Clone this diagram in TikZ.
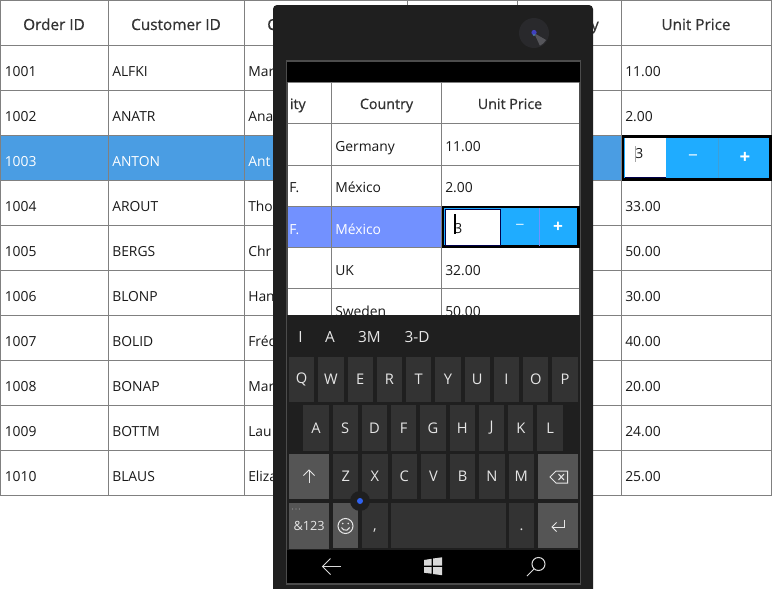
\documentclass[tikz,border=0pt]{standalone}
\usepackage{fontspec}
\setmainfont{Open Sans}
\newfontfamily\headfont[FakeBold=0.6]{Open Sans}
\usetikzlibrary{calc}
\definecolor{gridline}{HTML}{808080}
\definecolor{selrow}{HTML}{4A9DE3}
\definecolor{selrowphone}{HTML}{7291FF}
\definecolor{spinblue}{HTML}{1FACFF}
\definecolor{phonebody}{HTML}{1F1F1F}
\definecolor{keydark}{HTML}{333333}
\definecolor{keylight}{HTML}{555555}
\definecolor{keytext}{HTML}{E6E6E6}
\definecolor{homedot}{HTML}{2F62F0}
\definecolor{camring}{HTML}{29292C}
\definecolor{camglint}{HTML}{55555A}
\tikzset{
	headtext/.style={anchor=base,inner sep=0,text=black!80,font=\headfont\fontsize{11.5pt}{12pt}\selectfont},
	phonehead/.style={headtext,font=\headfont\fontsize{10.7pt}{12pt}\selectfont},
	celltext/.style={anchor=base west,inner sep=0,text=black!90,font=\fontsize{10.4pt}{12pt}\selectfont},
	seltext/.style={celltext,text=white},
	keydarkbox/.style={fill=keydark,text=keytext,inner sep=0,minimum width=19pt,minimum height=33.9pt,font=\fontsize{11pt}{12pt}\selectfont},
	keylightbox/.style={keydarkbox,fill=keylight,minimum width=30pt},
	suggest/.style={anchor=base,inner sep=0,text=keytext,font=\fontsize{11.5pt}{12pt}\selectfont},
	icon/.style={draw=keytext,line width=0.75pt},
	navicon/.style={draw=white!85!black,line width=0.75pt}
}

\begin{document}
\begin{tikzpicture}[x=0.75pt,y=-0.75pt]
	\clip (0, 0) rectangle (772, 589);
	\fill[white] (0, 0) rectangle (772, 589);

	%%%%% big table %%%%%
	\fill[selrow] (0, 135.5) rectangle (622, 180.5);
	\foreach \yy in {0.5, 45.5, 90.5, 135.5, 180.5, 225.5, 270.5, 315.5, 360.5, 405.5, 450.5, 495.5}
		\draw[gridline, line width=0.75pt] (0, \yy) -- (772, \yy);
	\foreach \xx in {0.5, 108.5, 244.5, 407, 517, 621.5, 771.5}
		\draw[gridline, line width=0.75pt] (\xx, 0) -- (\xx, 495.5);

	\node[headtext] (headOrder) at (54, 30) {Order ID};
	\node[headtext] (headCustomer) at (176, 30) {Customer ID};
	\node[headtext, anchor=base west] (headContact) at (267, 30) {C};
	\node[headtext, anchor=base east] (headQuantity) at (599, 30) {y};
	\node[headtext] (headPrice) at (696, 30) {Unit Price};

	\foreach \ordno/\cust/\nm/\price/\yy in {1001/ALFKI/Mar/11.00/76, 1002/ANATR/Ana/2.00/121, 1004/AROUT/Tho/33.00/211, 1005/BERGS/Chr/50.00/256, 1006/BLONP/Han/30.00/301, 1007/BOLID/Fréd/40.00/346, 1008/BONAP/Mar/20.00/391, 1009/BOTTM/Lau/24.00/436, 1010/BLAUS/Eliza/25.00/481} {
		\node[celltext] (ord\ordno) at (4.5, \yy) {\ordno};
		\node[celltext] (cust\ordno) at (112, \yy) {\cust};
		\node[celltext] (name\ordno) at (248, \yy) {\nm};
		\node[celltext] (price\ordno) at (625, \yy) {\price};
	}
	\node[seltext] (ord1003) at (4.5, 166) {1003};
	\node[seltext] (cust1003) at (112, 166) {ANTON};
	\node[seltext] (name1003) at (248, 166) {Ant};

	% spinner in big table
	\draw[fill=spinblue, draw=black, line width=1.9pt] (623, 136.5) rectangle (770.5, 179.5);
	\fill[white] (624.5, 138) rectangle (666, 178);
	\fill[black!70!blue] (624.5, 177) rectangle (666, 178);
	\draw[spinblue!70!gray, line width=0.75pt] (718.5, 138) -- (718.5, 178);
	\node[celltext] (editBig) at (635, 158) {3};
	\draw[gray!70, line width=0.6pt] (635.5, 146) -- (635.5, 162);
	\node[inner sep=0, text=white, font=\fontsize{13pt}{12pt}\selectfont] (minusBig) at (693, 158) {−};
	\node[inner sep=0, text=white, font=\bfseries\fontsize{14pt}{12pt}\selectfont] (plusBig) at (745, 158) {+};

	%%%%% phone %%%%%
	\fill[phonebody, rounded corners=3pt] (273, 5) rectangle (593, 600);
	\fill[camring] (534, 33) circle (15);
	\fill[camglint] (534, 33) -- (546.1, 40) arc (30:65:14) -- cycle;
	\fill[blue!50!gray] (534, 32.5) circle (2.6);
	\fill[cyan!60!black] (534, 35) circle (1.2);

	\draw[fill=white, draw=black!70, line width=1.5pt] (286.5, 61) rectangle (580, 584);
	\fill[black] (287, 62) rectangle (579.5, 82);

	% phone table
	\fill[selrowphone] (287.5, 206) rectangle (441.5, 247.5);
	\foreach \yy in {82, 123.5, 165, 206, 247.5, 288.5}
		\draw[gridline, line width=0.75pt] (287.5, \yy) -- (579, \yy);
	\foreach \xx in {331.5, 441.5}
		\draw[gridline, line width=0.75pt] (\xx, 82) -- (\xx, 315);

	\node[phonehead, anchor=base east] (headCity) at (306, 109) {ity};
	\node[phonehead] (headCountry) at (386.5, 109) {Country};
	\node[phonehead] (headUnit) at (510, 109) {Unit Price};

	\node[celltext] (cellGermany) at (335, 151) {Germany};
	\node[celltext] (cellGerPrice) at (445, 151) {11.00};
	\node[celltext] (cellCityA) at (289, 192.5) {F.};
	\node[celltext] (cellMexico) at (335, 192.5) {México};
	\node[celltext] (cellMexPrice) at (445, 192.5) {2.00};
	\node[seltext] (cellCityB) at (289, 234) {F.};
	\node[seltext] (cellMexicoB) at (335, 234) {México};
	\node[celltext] (cellUK) at (335, 275) {UK};
	\node[celltext] (cellUKPrice) at (445, 275) {32.00};
	\node[celltext] (cellSweden) at (335, 316) {Sweden};
	\node[celltext] (cellSwePrice) at (445, 316) {50.00};

	% spinner in phone
	\draw[fill=spinblue, draw=black, line width=1.6pt] (443, 207) rectangle (578.5, 246.5);
	\draw[fill=white, draw=black!70!blue, line width=0.75pt] (445.5, 209) rectangle (500.5, 245);
	\draw[selrowphone, line width=0.75pt] (539, 208) -- (539, 245.5);
	\node[celltext] (editPhone) at (454, 233) {3};
	\draw[black, line width=0.9pt] (455, 214) -- (455, 234);
	\node[inner sep=0, text=white!85!spinblue, font=\fontsize{12pt}{12pt}\selectfont] (minusPhone) at (520, 227) {−};
	\node[inner sep=0, text=white, font=\bfseries\fontsize{13pt}{12pt}\selectfont] (plusPhone) at (558, 227) {+};

	%%%%% keyboard %%%%%
	\fill[phonebody] (287, 315) rectangle (579.5, 550);
	\node[suggest] (sugI) at (300.5, 342.5) {I};
	\node[suggest] (sugA) at (330, 342.5) {A};
	\node[suggest] (sugM) at (369.5, 342.5) {3M};
	\node[suggest] (sugD) at (417, 342.5) {3-D};

	\foreach \lab [count=\i from 0] in {Q,W,E,R,T,Y,U,I,O,P}
		\node[keydarkbox] (key\lab) at ({301.7+29.26*\i}, 379.3) {\lab};
	\foreach \lab [count=\i from 0] in {A,S,D,F,G,H,J,K,L}
		\node[keydarkbox] (key\lab) at ({316+29.26*\i}, 428) {\lab};
	\foreach \lab [count=\i from 0] in {Z,X,C,V,B,N,M}
		\node[keydarkbox] (key\lab) at ({345.7+29.26*\i}, 476.7) {\lab};

	\node[keylightbox] (keyShift) at (309, 476.7) {};
	\node[keylightbox] (keyBack) at (558, 476.7) {};
	\node[keylightbox, font=\fontsize{9.5pt}{12pt}\selectfont] (keyNum) at (309, 526) {\&123};
	\node[keylightbox, minimum width=19pt] (keySmile) at (345.7, 525.5) {};
	\node[keydarkbox] (keyComma) at (375, 525.5) {\raisebox{-3.5pt}[0pt][0pt]{,}};
	\node[keydarkbox, minimum width=86pt] (keySpace) at (448.5, 525.5) {};
	\node[keydarkbox] (keyDot) at (521.5, 525.5) {\raisebox{-3.5pt}[0pt][0pt]{.}};
	\node[keylightbox] (keyEnter) at (558, 525.5) {};

	% glyphs on the keys
	\draw[icon] (309, 483) -- (309, 470);
	\draw[icon] (303.5, 475.5) -- (309, 470) -- (314.5, 475.5);
	\draw[icon] (550, 477) -- (556, 471) -- (567.5, 471) -- (567.5, 483) -- (556, 483) -- cycle;
	\draw[icon] (558.5, 474) -- (564, 480);
	\draw[icon] (564, 474) -- (558.5, 480);
	\draw[icon] (345.5, 526) circle (7.5);
	\fill[keytext] (342.8, 523.5) circle (0.9);
	\fill[keytext] (348.2, 523.5) circle (0.9);
	\draw[icon] (341.5, 527.5) arc (160:20:4.3);
	\draw[icon] (564, 519.5) -- (564, 527) -- (552, 527);
	\draw[icon] (556.5, 522.5) -- (552, 527) -- (556.5, 531.5);
	\foreach \dotx in {292.5, 296, 299.5}
		\fill[gray!80] (\dotx, 509) circle (0.6);

	\fill[phonebody] (360, 501) circle (10);
	\fill[homedot] (360, 501) circle (3);

	%%%%% nav bar %%%%%
	\fill[black] (287, 550) rectangle (579.5, 583);
	\draw[navicon] (341, 566.5) -- (322.5, 566.5);
	\draw[navicon] (330.5, 558.5) -- (322.5, 566.5) -- (330.5, 574.5);
	\fill[white!85!black] (424, 560) -- (431.5, 558.8) -- (431.5, 565.5) -- (424, 565.5) -- cycle;
	\fill[white!85!black] (433, 558.5) -- (442, 557.3) -- (442, 565.5) -- (433, 565.5) -- cycle;
	\fill[white!85!black] (424, 567) -- (431.5, 567) -- (431.5, 573.7) -- (424, 572.7) -- cycle;
	\fill[white!85!black] (433, 567) -- (442, 567) -- (442, 575.2) -- (433, 574) -- cycle;
	\draw[navicon] (538.5, 564) circle (6.5);
	\draw[navicon] (534, 569) -- (527, 576);
\end{tikzpicture}
\end{document}
